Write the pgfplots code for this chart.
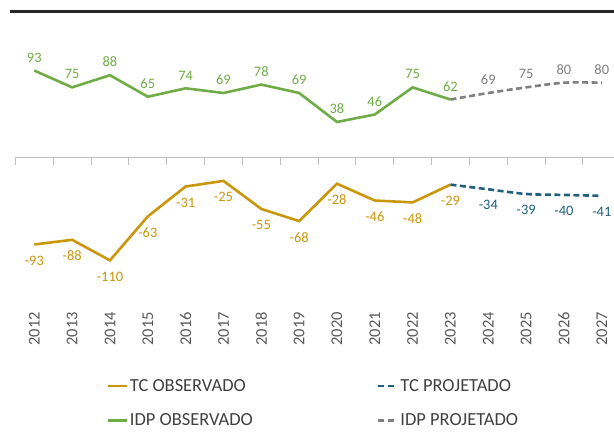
\documentclass[border=0pt]{standalone}
\usepackage{pgfplots}
\pgfplotsset{compat=1.18}
\usepackage{fontspec}
\setmainfont{Carlito}
\definecolor{tcgold}{HTML}{C9960C}
\definecolor{tcblue}{HTML}{1F5F80}
\definecolor{idpgreen}{HTML}{6FAC46}
\definecolor{idpgray}{HTML}{7F7F7F}
\definecolor{axgray}{HTML}{BFBFBF}
\definecolor{txtgray}{HTML}{595959}
\definecolor{leggray}{HTML}{404040}
\begin{document}
\begin{tikzpicture}
\begin{axis}[
  at={(0,0)}, anchor=south west,
  scale only axis, width=605.3bp, height=248bp,
  xmin=-0.5, xmax=15.5, ymin=-165.2, ymax=100,
  axis y line=none,
  axis x line*=bottom,
  x axis line style={draw=none},
  xtick={0,...,15},
  xticklabels={2012,2013,2014,2015,2016,2017,2018,2019,2020,2021,2022,2023,2024,2025,2026,2027},
  major tick length=0pt,
  xticklabel style={rotate=90, anchor=east, inner sep=0pt, font=\fontsize{16.5}{18}\selectfont, text=txtgray},
  clip=false,
  /pgf/number format/assume math mode=true,
  point meta=explicit symbolic,
  nodes near coords,
  legend columns=2,
  legend cell align=left,
  legend style={draw=none, fill=none, at={(axis description cs:0.145,-0.254)}, anchor=north west,
    font=\fontsize{18.5}{21}\selectfont, text=leggray,
    /tikz/every even column/.append style={column sep=122bp}, row sep=17bp},
  legend image code/.code={\draw[#1] (0bp,0bp) -- (19bp,0bp);},
  below/.style={every node near coord/.append style={anchor=north, yshift=-10bp, inner sep=0pt, font=\fontsize{14.5}{16}\selectfont, text=#1}},
  above/.style={every node near coord/.append style={anchor=south, yshift=7bp, inner sep=0pt, font=\fontsize{14.5}{16}\selectfont, text=#1}},
]
\draw[axgray, line width=1bp] (axis cs:-0.5,0) -- (axis cs:15.5,0);
\pgfplotsinvokeforeach{0,...,16}{\draw[axgray, line width=1bp] (axis cs:#1-0.5,0) -- ([yshift=-7bp]axis cs:#1-0.5,0);}

\addplot[tcgold, line width=2.6bp, below=tcgold] coordinates {
(0,-93)[-93] (1,-88)[-88] (2,-110)[-110] (3,-63)[-63] (4,-31)[-31] (5,-25)[-25]
(6,-55)[-55] (7,-68)[-68] (8,-28)[-28] (9,-46)[-46] (10,-48)[-48] (11,-29)[-29]};
\addlegendentry{TC OBSERVADO}
\addplot[tcblue, line width=2.6bp, dash pattern=on 6bp off 3.5bp, smooth, below=tcblue] coordinates {
(11,-29)[] (12,-34)[-34] (13,-39)[-39] (14,-40)[-40] (15,-41)[-41]};
\addlegendentry{TC PROJETADO}
\addplot[idpgreen, line width=2.6bp, above=idpgreen] coordinates {
(0,93)[93] (1,75)[75] (2,88)[88] (3,65)[65] (4,74)[74] (5,69)[69]
(6,78)[78] (7,69)[69] (8,38)[38] (9,46)[46] (10,75)[75] (11,62)[62]};
\addlegendentry{IDP OBSERVADO}
\addplot[idpgray, line width=2.6bp, dash pattern=on 6bp off 3.5bp, smooth, above=idpgray] coordinates {
(11,62)[] (12,69)[69] (13,75)[75] (14,80)[80] (15,80)[80]};
\addlegendentry{IDP PROJETADO}
\end{axis}
\draw[line width=3.5bp, black!85] (-5.4bp,300.25bp) -- (620bp,300.25bp);
\pgfresetboundingbox
\path[use as bounding box] (-15.4bp,-121bp) rectangle (598.6bp,312bp);
\end{tikzpicture}
\end{document}
